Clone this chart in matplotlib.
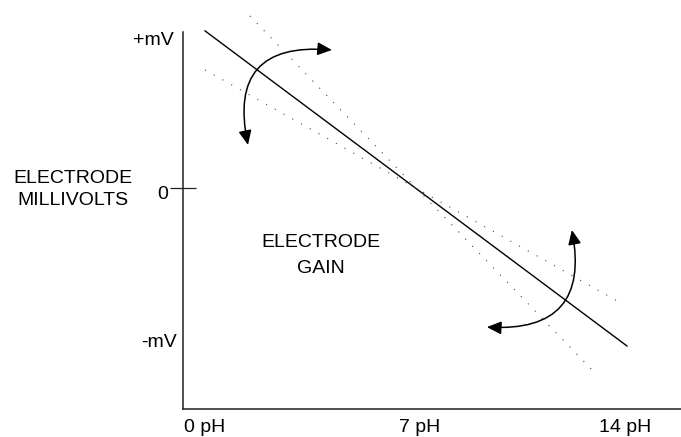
import matplotlib
matplotlib.use('Agg')
import matplotlib.pyplot as plt
from matplotlib.patches import FancyArrowPatch

plt.rcParams['font.family'] = ['Liberation Sans', 'DejaVu Sans']

# dane: pH na osi x, mV (w jednostkach +/-1) na osi y
solid_ph = [-0.34, 14.06]
solid_mv = [1.047, -1.053]
steep_ph = [1.19, 12.97]
steep_mv = [1.147, -1.233]
flat_ph = [-0.34, 13.86]
flat_mv = [0.787, -0.767]

# koncowki lukow ze strzalkami
arc1_ph = [1.126, 3.99]
arc1_mv = [0.287, 0.92]
arc2_ph = [12.18, 9.28]
arc2_mv = [-0.28, -0.927]

x_ticks = [7, 14]
x_labels = ['7 pH', '14 pH']
y_ticks = [1, 0, -1]
y_labels = ['+mV', '0', '-mV']

fig = plt.figure(figsize=(6.81, 4.37), dpi=100)
ax = fig.add_axes([183/681, 28/437, 498/681, 409/437])
ax.set_xlim(-1.092, 15.904)
ax.set_ylim(-1.473, 1.253)

for s in ['top', 'right']:
    ax.spines[s].set_visible(False)
ax.spines['left'].set_bounds(-1.473, 1.04)
ax.spines['left'].set_color('#222222')
ax.spines['bottom'].set_color('#222222')
ax.spines['left'].set_linewidth(1.1)
ax.spines['bottom'].set_linewidth(1.1)
ax.set_xticks([])
ax.set_yticks([])
# kreska przy zerze przecinajaca os
ax.set_yticks([0], minor=True)
ax.tick_params(axis='y', which='minor', direction='inout', length=18.7,
               width=0.9, color='#222222', labelleft=False)

# linie
ax.plot(solid_ph, solid_mv, color='black', lw=1.0)
ax.plot(steep_ph, steep_mv, color='#444444', lw=0.8, linestyle=(0, (1, 8)))
ax.plot(flat_ph, flat_mv, color='#444444', lw=0.8, linestyle=(0, (1, 8)))

# luki ze strzalkami
style = '<|-|>,head_length=0.62,head_width=0.28'
a1 = FancyArrowPatch((arc1_ph[0], arc1_mv[0]), (arc1_ph[1], arc1_mv[1]),
                     connectionstyle='arc3,rad=-0.67', arrowstyle=style,
                     mutation_scale=14, lw=1.1, color='black',
                     shrinkA=0, shrinkB=0)
a2 = FancyArrowPatch((arc2_ph[0], arc2_mv[0]), (arc2_ph[1], arc2_mv[1]),
                     connectionstyle='arc3,rad=-0.64', arrowstyle=style,
                     mutation_scale=14, lw=1.1, color='black',
                     shrinkA=0, shrinkB=0)
ax.add_patch(a1)
ax.add_patch(a2)

# opisy osi y
fs = 14
y_pos = [0.953, -0.073, -1.06]
y_x = [-1.40, -1.604, -1.297]
for i in range(len(y_ticks)):
    ax.text(y_x[i], y_pos[i], y_labels[i], ha='right', va='baseline',
            fontsize=fs, clip_on=False)

# opisy osi x
ax.text(-1.05, -1.627, '0 pH', ha='left', va='baseline', fontsize=fs, clip_on=False)
for i in range(len(x_ticks)):
    ax.text(x_ticks[i], -1.627, x_labels[i], ha='center', va='baseline',
            fontsize=fs, clip_on=False)

ax.text(-4.85, 0.033, 'ELECTRODE', ha='center', va='baseline', fontsize=fs, clip_on=False)
ax.text(-4.85, -0.113, 'MILLIVOLTS', ha='center', va='baseline', fontsize=fs, clip_on=False)
ax.text(3.62, -0.391, 'ELECTRODE', ha='center', va='baseline', fontsize=fs)
ax.text(3.62, -0.569, 'GAIN', ha='center', va='baseline', fontsize=fs)

fig.savefig('out.png', dpi=100)
